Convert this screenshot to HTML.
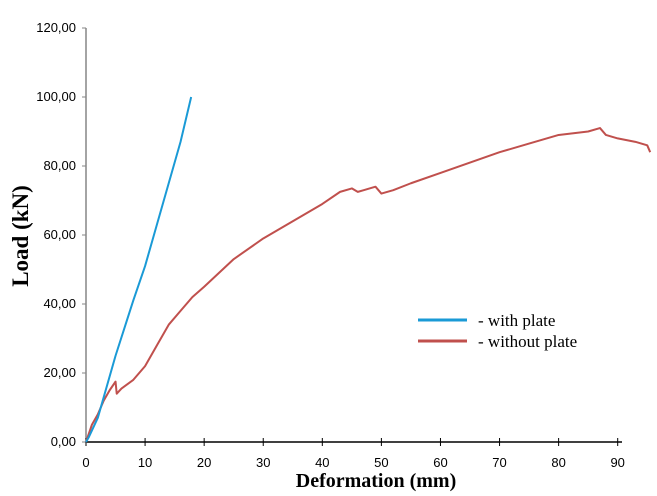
<!DOCTYPE html>
<html><head><meta charset="utf-8"><style>
body{margin:0;background:#fff}
svg{display:block}
.t{font-family:"Liberation Sans",sans-serif;font-size:13px;fill:#000}
.s{font-family:"Liberation Serif",serif}
</style></head><body>
<svg id="c" width="657" height="496">
<g id="ax"></g>
<g id="ser"></g>
<text class="s" x="0" y="0" transform="translate(28,236) rotate(-90)" text-anchor="middle" font-size="23" font-weight="bold">Load (kN)</text>
<text class="s" x="376" y="487" text-anchor="middle" font-size="20" font-weight="bold">Deformation  (mm)</text>
<g>
<line x1="418" y1="320" x2="467" y2="320" stroke="#1a9ad6" stroke-width="3"/>
<text class="s" x="478" y="326" font-size="17">- with plate</text>
<line x1="418" y1="341" x2="467" y2="341" stroke="#c0504d" stroke-width="3"/>
<text class="s" x="478" y="347" font-size="17">- without plate</text>
</g>
</svg>
<script>
const xTicks=[0,10,20,30,40,50,60,70,80,90];
const yTicks=[0,20,40,60,80,100,120];
const yTickLabels=["0,00","20,00","40,00","60,00","80,00","100,00","120,00"];
const withPlateX=[0,0.5,2,3,5,8,10,12,14,16,17.8];
const withPlateY=[0,1.5,7,13,25,41,51,63,75,87,100];
const withoutPlateX=[0,1,2,3,4,5,5.2,6,8,10,12,14,16,18,20,25,30,35,40,43,45,46,47,49,50,52,55,60,65,70,75,80,85,87,88,90,93,95,95.5];
const withoutPlateY=[0,5,8,12,15,17.5,14,15.5,18,22,28,34,38,42,45,53,59,64,69,72.5,73.5,72.5,73,74,72,73,75,78,81,84,86.5,89,90,91,89,88,87,86,84];
const X=v=>86+v*(617.7-86)/90;
const Y=v=>442-v*(442-28)/120;
const NS="http://www.w3.org/2000/svg";
const ax=document.getElementById('ax'),ser=document.getElementById('ser');
function mk(tag,attrs,parent){const e=document.createElementNS(NS,tag);for(const k in attrs)e.setAttribute(k,attrs[k]);parent.appendChild(e);return e;}
let l=mk('line',{x1:86,y1:28,x2:86,y2:442,stroke:'#868686','stroke-width':1.5},ax);


l=mk('line',{x1:86,y1:442,x2:622,y2:442,stroke:'#000','stroke-width':1.5},ax);


yTicks.forEach((v,i)=>{
 const t=mk('line',{x1:82,y1:Y(v),x2:86,y2:Y(v),stroke:'#868686'},ax);
 
 
 const tx=mk('text',{x:76,y:Y(v)+4,'text-anchor':'end',class:'t'},ax);
 tx.textContent=yTickLabels[i];
 
 
});
xTicks.forEach(v=>{
 const t=mk('line',{x1:X(v),y1:438,x2:X(v),y2:446,stroke:'#000'},ax);
 
 
 const tx=mk('text',{x:X(v),y:467,'text-anchor':'middle',class:'t'},ax);
 tx.textContent=v;
 
 
});
function line(xs,ys,color,name){
 const p=mk('polyline',{points:xs.map((x,i)=>X(x)+','+Y(ys[i])).join(' '),fill:'none',stroke:color,'stroke-width':2,'stroke-linejoin':'round'},ser);
 
 
}
line(withoutPlateX,withoutPlateY,'#c0504d','series-without-plate');
line(withPlateX,withPlateY,'#1a9ad6','series-with-plate');
</script>
</body></html>
